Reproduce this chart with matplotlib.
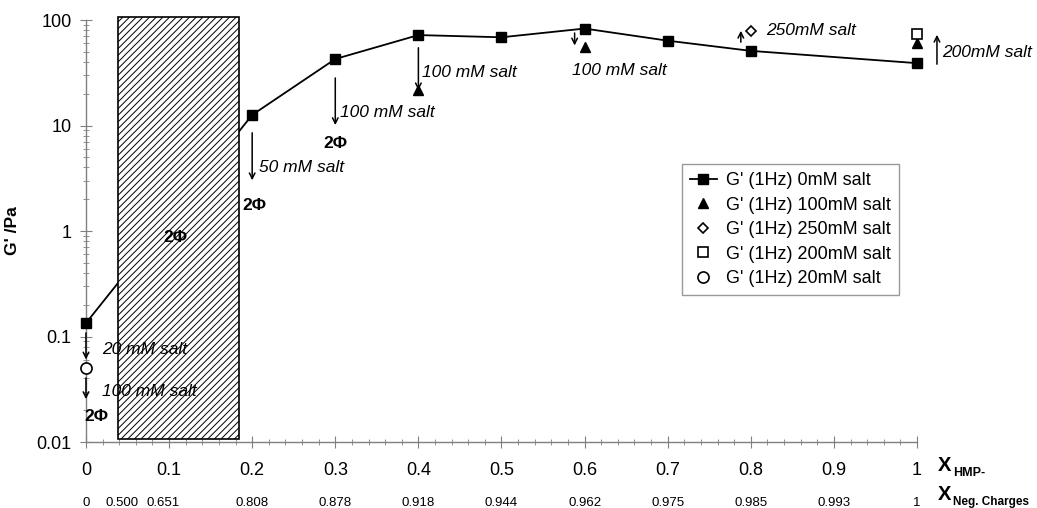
import numpy as np
import matplotlib
matplotlib.use("Agg")
import matplotlib.pyplot as plt
from matplotlib.patches import Rectangle
from matplotlib.ticker import MultipleLocator, LogLocator
import matplotlib.transforms as mtransforms

plt.rcParams['font.family'] = ['Liberation Sans', 'DejaVu Sans']
plt.rcParams['hatch.linewidth'] = 0.7

# data
x_0mM = [0, 0.2, 0.3, 0.4, 0.5, 0.6, 0.7, 0.8, 1.0]
g_0mM = [0.134, 12.6, 42.7, 72, 68.6, 83, 63.7, 51, 39]
x_100mM = [0.4, 0.6, 1.0]
g_100mM = [21.5, 55, 60.5]
x_250mM = [0.8]
g_250mM = [79]
x_200mM = [1.0]
g_200mM = [74]
x_20mM = [0]
g_20mM = [0.050]

x_ticks = [0, 0.1, 0.2, 0.3, 0.4, 0.5, 0.6, 0.7, 0.8, 0.9, 1.0]
x_ticklabels = ['0', '0.1', '0.2', '0.3', '0.4', '0.5', '0.6', '0.7', '0.8', '0.9', '1']
neg_pos = [0, 0.044, 0.093, 0.2, 0.3, 0.4, 0.5, 0.6, 0.7, 0.8, 0.9, 1.0]
neg_labels = ['0', '0.500', '0.651', '0.808', '0.878', '0.918', '0.944',
              '0.962', '0.975', '0.985', '0.993', '1']

# two-phase region (hatched box)
box_x = (0.0385, 0.184)
box_y = (0.0107, 106)

# arrows: (x, y_from, y_to)
arrows = [(0, 0.115, 0.057), (0, 0.043, 0.024), (0.2, 9.06, 2.85),
          (0.3, 30, 9.5), (0.4, 58, 20.3), (0.588, 80, 54),
          (0.788, 58, 84), (1.024, 35.9, 77)]
# italic notes: (x, y, text)
notes = [(0.019, 0.0745, '20 mM salt'), (0.019, 0.0298, '100 mM salt'),
         (0.208, 3.96, '50 mM salt'), (0.306, 13.4, '100 mM salt'),
         (0.404, 32, '100 mM salt'), (0.585, 33, '100 mM salt'),
         (0.819, 79, '250mM salt'), (1.030, 49.7, '200mM salt')]
# bold two-phase marks: (x, y)
phase_marks = [(0.013, 0.0173), (0.203, 1.76), (0.3, 6.8), (0.107, 0.86)]

fig = plt.figure(figsize=(10.37, 5.08), dpi=100)
ax = fig.add_axes([0.0829, 0.1299, 0.8014, 0.8307])

ax.plot(x_0mM, g_0mM, color='black', lw=1.3, marker='s', ms=7.5,
        label="G' (1Hz) 0mM salt", zorder=3, clip_on=False)
ax.plot(x_100mM, g_100mM, ls='none', color='black', marker='^', ms=7.5,
        label="G' (1Hz) 100mM salt", zorder=4, clip_on=False)
ax.plot(x_250mM, g_250mM, ls='none', marker='D', ms=5, mfc='white', mec='black',
        mew=1.2, label="G' (1Hz) 250mM salt", zorder=4, clip_on=False)
ax.plot(x_200mM, g_200mM, ls='none', marker='s', ms=7.5, mfc='white', mec='black',
        mew=1.2, label="G' (1Hz) 200mM salt", zorder=4, clip_on=False)
ax.plot(x_20mM, g_20mM, ls='none', marker='o', ms=8, mfc='white', mec='black',
        mew=1.2, label="G' (1Hz) 20mM salt", zorder=4, clip_on=False)

box = Rectangle((box_x[0], box_y[0]), box_x[1] - box_x[0], box_y[1] - box_y[0],
                facecolor='white', edgecolor='black', hatch='/////', lw=1.2,
                zorder=5, clip_on=False)
ax.add_patch(box)

for x, y0, y1 in arrows:
    ax.annotate('', xy=(x, y1), xytext=(x, y0),
                arrowprops=dict(arrowstyle='->', color='black', lw=1.1),
                annotation_clip=False, zorder=6)
for x, y, t in notes:
    ax.text(x, y, t, style='italic', fontsize=12.5, ha='left', va='center',
            zorder=7, clip_on=False)
for x, y in phase_marks:
    ax.text(x, y, '2\u03a6', fontweight='bold', fontsize=12.5, ha='center',
            va='center', zorder=7)

ax.set_yscale('log')
ax.set_ylim(0.01, 100)
ax.set_xlim(0, 1.0)
ax.set_xticks(x_ticks)
ax.set_xticklabels(x_ticklabels)
ax.xaxis.set_minor_locator(MultipleLocator(0.02))
ax.yaxis.set_minor_locator(LogLocator(base=10, subs=np.arange(2, 10)))
ax.set_yticks([0.01, 0.1, 1, 10, 100])
ax.set_yticklabels(['0.01', '0.1', '1', '10', '100'])

for s in ['top', 'right']:
    ax.spines[s].set_visible(False)
for s in ['left', 'bottom']:
    ax.spines[s].set_color('#808080')
    ax.spines[s].set_linewidth(1.0)
ax.tick_params(which='major', direction='inout', length=9, color='#808080',
               labelsize=13)
ax.tick_params(which='minor', direction='inout', length=5, color='#808080')
ax.tick_params(axis='x', which='major', pad=10)
ax.tick_params(axis='y', which='major', pad=6)

ax.set_ylabel("G' /Pa", fontweight='bold', fontsize=12.5)
ax.yaxis.set_label_coords(-0.079, 0.5)

trans = mtransforms.blended_transform_factory(ax.transData, ax.transAxes)
for x, t in zip(neg_pos, neg_labels):
    ax.text(x, -0.1445, t, transform=trans, ha='center', va='center',
            fontsize=9.5, family=['Liberation Sans Narrow', 'Liberation Sans'])

ax.text(1.025, -0.0545, 'X', transform=ax.transAxes, fontsize=14.5,
        fontweight='bold', ha='left', va='center')
ax.text(1.044, -0.0735, 'HMP-', transform=ax.transAxes, fontsize=9,
        fontweight='bold', ha='left', va='center')
ax.text(1.025, -0.125, 'X', transform=ax.transAxes, fontsize=14.5,
        fontweight='bold', ha='left', va='center')
ax.text(1.043, -0.142, 'Neg. Charges', transform=ax.transAxes, fontsize=8.5,
        fontweight='bold', ha='left', va='center',
        family=['Liberation Sans Narrow', 'Liberation Sans'])

leg = ax.legend(loc='upper left', bbox_to_anchor=(0.717, 0.659), fontsize=13,
                frameon=True, fancybox=False, borderaxespad=0, handlelength=1.5,
                handletextpad=0.5, labelspacing=0.42, borderpad=0.45)
leg.get_frame().set_edgecolor('#808080')
leg.get_frame().set_linewidth(1.0)
leg.set_zorder(8)

fig.savefig('out.png', dpi=100)
